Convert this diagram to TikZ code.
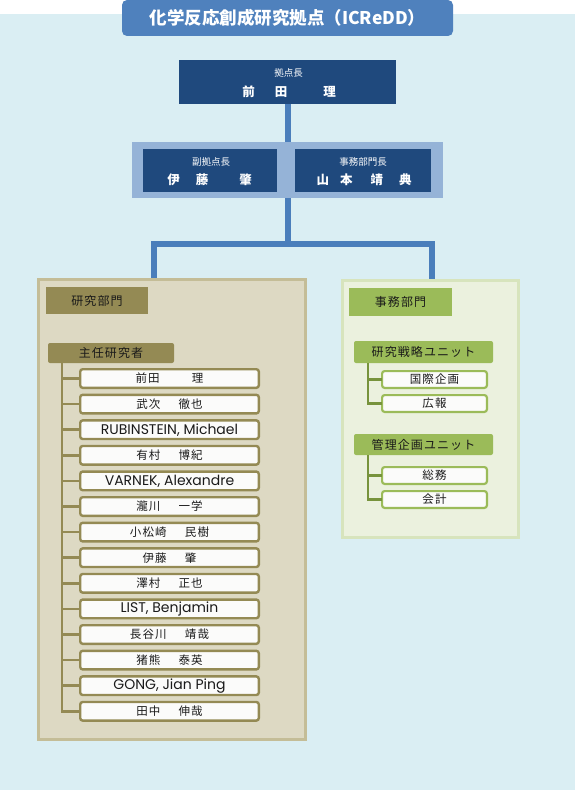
\documentclass[tikz,border=0pt]{standalone}
\usepackage{fontspec}
\setmainfont{Noto Sans CJK JP}
\newfontfamily\spcjk[LetterSpace=9]{Noto Sans CJK JP}
\newfontfamily\latinfont{Poppins}
\definecolor{bgblue}{HTML}{DAEEF3}
\definecolor{titleblue}{HTML}{4F81BD}
\definecolor{navy}{HTML}{1F497D}
\definecolor{conblue}{HTML}{95B3D7}
\definecolor{lineblue}{HTML}{4A7EBB}
\definecolor{beige}{HTML}{DDD9C3}
\definecolor{beigeborder}{HTML}{C4BD97}
\definecolor{olive}{HTML}{948A54}
\definecolor{itemfill}{HTML}{FBFBFA}
\definecolor{greenbg}{HTML}{EBF1DE}
\definecolor{greenborder}{HTML}{D7E4BD}
\definecolor{leaf}{HTML}{9BBB59}
\definecolor{leafline}{HTML}{77933C}
\definecolor{ink}{HTML}{1A1A1A}
\newcommand{\ngap}{\hspace{1.6em}}
\begin{document}
\begin{tikzpicture}[x=1pt,y=-1pt,
  every node/.style={inner sep=0pt, outer sep=0pt},
  titlebox/.style={fill=titleblue, rounded corners=5pt, text=white, font=\fontsize{17.5}{20}\selectfont\bfseries},
  navybox/.style={fill=navy},
  smalllab/.style={text=white, font=\fontsize{9.5}{10}\selectfont},
  bigname/.style={text=white, font=\fontsize{12.5}{14}\selectfont\bfseries},
  blueline/.style={draw=lineblue, line width=6pt},
  panelR/.style={fill=beige, draw=beigeborder, line width=3pt},
  panelG/.style={fill=greenbg, draw=greenborder, line width=3pt},
  headR/.style={fill=olive, text=ink, font=\fontsize{12}{14}\selectfont\spcjk},
  headG/.style={fill=leaf, text=ink, font=\fontsize{12}{14}\selectfont\spcjk},
  subR/.style={fill=olive, rounded corners=2pt, text=ink, font=\fontsize{12}{14}\selectfont\spcjk},
  subG/.style={fill=leaf, rounded corners=2pt, text=ink, font=\fontsize{12}{14}\selectfont\spcjk},
  itemR/.style={draw=olive, line width=2.4pt, fill=itemfill, rounded corners=2.5pt,
    minimum width=178.6pt, minimum height=18.6pt, text=ink, font=\fontsize{11.5}{12}\selectfont\spcjk},
  itemG/.style={draw=leaf, line width=2.2pt, fill=itemfill, rounded corners=2.5pt,
    minimum width=104.8pt, minimum height=16.8pt, text=ink, font=\fontsize{11.5}{12}\selectfont\spcjk},
  latin/.style={font=\fontsize{14}{15}\latinfont},
  oliveline/.style={draw=olive, line width=2.6pt},
  greenline/.style={draw=leafline, line width=2.6pt}
]
\useasboundingbox (0,0) rectangle (576,792);
\fill[bgblue] (0,14) rectangle (575,790);

% title
\node[titlebox, minimum width=331pt, minimum height=36pt] (title) at (287.5,18) {化学反応創成研究拠点（ICReDD）};

% connectors (drawn first)
\coordinate (jn) at (287.5,243.5);
\coordinate (lbtop) at (154,280);
\coordinate (rbtop) at (431.5,281);
\node[navybox, minimum width=217pt, minimum height=44pt] (dir) at (287.5,82) {};
\node[fill=conblue, minimum width=311pt, minimum height=56pt] (dep) at (287.5,170) {};
\draw[blueline] (dir.south) -- (dep.north);
\draw[blueline] (dep.south) -- (jn);
\draw[blueline, line join=miter] (lbtop) |- (jn) -| (rbtop);

% director
\node[smalllab] (dirlab) at (288.5,73) {拠点長};
\node[bigname] (dirname) at (289,92) {前\hspace{20pt}田\hspace{36pt}理};

% deputies
\node[navybox, minimum width=134pt, minimum height=43pt] (dep1) at (210,170.5) {};
\node[navybox, minimum width=136pt, minimum height=43pt] (dep2) at (363,170.5) {};
\node[smalllab] (dep1lab) at (211,162) {副拠点長};
\node[bigname] (dep1name) at (209.5,180) {伊\hspace{16pt}藤\hspace{31pt}肇};
\node[smalllab] (dep2lab) at (363,162) {事務部門長};
\node[bigname] (dep2name) at (364,180) {山\hspace{11pt}本\hspace{18pt}靖\hspace{16pt}典};

% research panel
\node[panelR, minimum width=267pt, minimum height=460pt] (lb) at (172,509.5) {};
\node[headR, minimum width=102pt, minimum height=27pt] (lbh) at (97,300.5) {研究部門};
\node[subR, minimum width=126pt, minimum height=20pt] (pi) at (111,353) {主任研究者};
\coordinate (spine) at (62,363);

\node[itemR] (i1) at (169.5,378.5) {前田\hspace{2.8em}理};
\node[itemR] (i2) at (169.5,404.1) {武次\ngap 徹也};
\node[itemR, latin] (i3) at (169.5,429.7) {RUBINSTEIN, Michael};
\node[itemR] (i4) at (169.5,455.3) {有村\ngap 博紀};
\node[itemR, latin] (i5) at (169.5,480.9) {VARNEK, Alexandre};
\node[itemR] (i6) at (169.5,506.5) {瀧川\ngap 一学};
\node[itemR] (i7) at (169.5,532.1) {小松崎\ngap 民樹};
\node[itemR] (i8) at (169.5,557.7) {伊藤\ngap 肇};
\node[itemR] (i9) at (169.5,583.3) {澤村\ngap 正也};
\node[itemR, latin] (i10) at (169.5,608.9) {LIST, Benjamin};
\node[itemR] (i11) at (169.5,634.5) {長谷川\ngap 靖哉};
\node[itemR] (i12) at (169.5,660.1) {猪熊\ngap 泰英};
\node[itemR, latin] (i13) at (169.5,685.7) {GONG, Jian Ping};
\node[itemR] (i14) at (169.5,711.3) {田中\ngap 伸哉};

\draw[oliveline] (pi.south -| spine) |- (i14.west);
\foreach \k in {1,...,13} {\draw[oliveline] (i\k.west -| spine) -- (i\k.west);}

% admin panel
\node[panelG, minimum width=176pt, minimum height=257pt] (rb) at (430.5,409) {};
\node[headG, minimum width=103pt, minimum height=28pt] (rbh) at (400.5,302) {事務部門};
\node[subG, minimum width=139pt, minimum height=22pt] (u1) at (423.5,352) {研究戦略ユニット};
\node[subG, minimum width=139pt, minimum height=21pt] (u2) at (423.5,444.5) {管理企画ユニット};
\coordinate (spine1) at (368,363);
\coordinate (spine2) at (368,455);
\node[itemG] (a1) at (434.5,379.5) {国際企画};
\node[itemG] (a2) at (434.5,403.5) {広報};
\node[itemG] (b1) at (434.5,475.5) {総務};
\node[itemG] (b2) at (434.5,499.5) {会計};
\draw[greenline] (spine1) |- (a2.west);
\draw[greenline] (a1.west -| spine1) -- (a1.west);
\draw[greenline] (spine2) |- (b2.west);
\draw[greenline] (b1.west -| spine2) -- (b1.west);
\end{tikzpicture}
\end{document}
